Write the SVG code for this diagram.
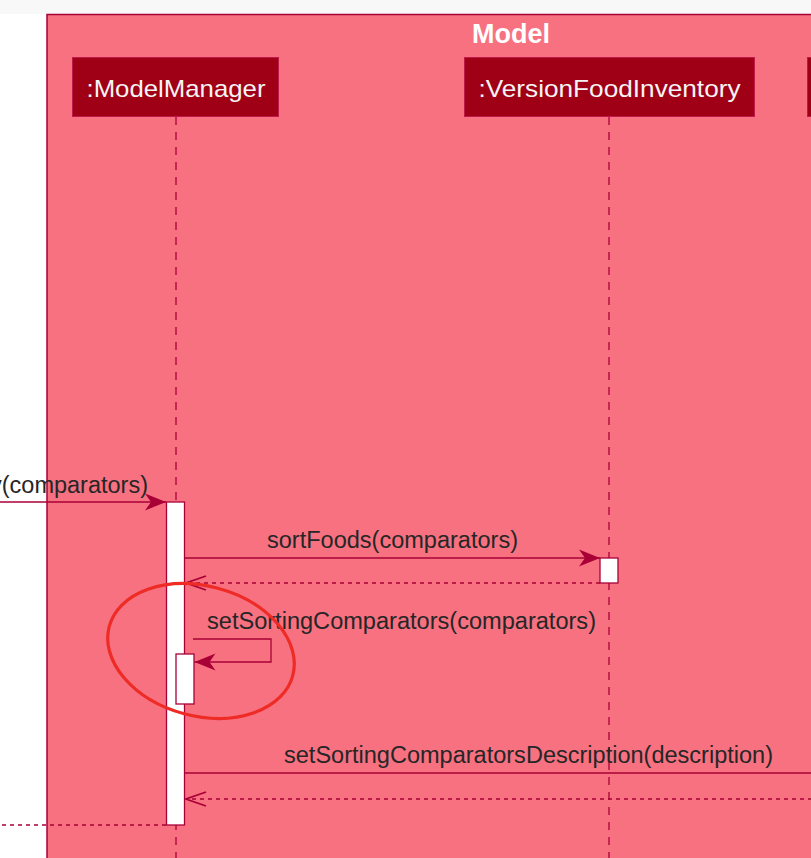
<svg xmlns="http://www.w3.org/2000/svg" width="811" height="858" viewBox="0 0 811 858">
<style>
.frame{fill:#F87181;stroke:#A80036;stroke-width:1.5}
.part rect{fill:#A00016;stroke:#C01848;stroke-width:1}
.part text{fill:#F4F4F4;font-family:"Liberation Sans",Arial,sans-serif;font-size:24px;text-anchor:middle}
.life{stroke:#A80036;stroke-width:1.3;stroke-dasharray:8,7;fill:none}
.act{fill:#FFFFFF;stroke:#A80036;stroke-width:1.3}
.msg{stroke:#A80036;stroke-width:1.3;fill:none}
.ret{stroke:#A80036;stroke-width:1.3;fill:none;stroke-dasharray:4,4}
.lbl{fill:#262626;font-family:"Liberation Sans",Arial,sans-serif;font-size:23.5px}
.title{fill:#FFFFFF;font-family:"Liberation Sans",Arial,sans-serif;font-size:27px;font-weight:bold;text-anchor:middle}
</style>
<defs>
<marker id="fill" viewBox="-23 -10 25 20" refX="0" refY="0" markerWidth="25" markerHeight="20" markerUnits="userSpaceOnUse" orient="auto">
<path d="M0,0 L-21,-8.5 L-15,0 L-21,8.5 Z" fill="#A80036"/>
</marker>
<marker id="open" viewBox="-23 -10 25 20" refX="0" refY="0" markerWidth="25" markerHeight="20" markerUnits="userSpaceOnUse" orient="auto">
<path d="M-20,-7 L0,0 L-20,7" fill="none" stroke="#A80036" stroke-width="1.8"/>
</marker>
</defs>
<rect x="0" y="0" width="811" height="858" fill="#FFFFFF"/>
<rect x="0" y="0" width="811" height="14" fill="#F8F8F8"/>
<g id="frame-model">
<rect class="frame" x="47" y="14.5" width="800" height="880"/>
<text class="title" x="511" y="43">Model</text>
</g>
<g id="lifelines">
<line class="life" x1="176" y1="117" x2="176" y2="858"/>
<line class="life" x1="609" y1="117" x2="609" y2="858"/>
</g>
<g id="ModelManager" class="part">
<rect x="72.5" y="57.5" width="206" height="59"/>
<text x="176" y="97" textLength="179" lengthAdjust="spacingAndGlyphs">:ModelManager</text>
</g>
<g id="VersionFoodInventory" class="part">
<rect x="464.5" y="57.5" width="290" height="59"/>
<text x="609.5" y="97" textLength="262" lengthAdjust="spacingAndGlyphs">:VersionFoodInventory</text>
</g>
<g id="third-participant" class="part">
<rect x="807.5" y="57.5" width="60" height="59"/>
</g>
<g id="activations">
<rect class="act" x="166.5" y="502" width="18" height="323"/>
<rect class="act" x="600" y="558" width="18" height="25"/>
<rect class="act" x="176" y="654" width="18" height="50"/>
</g>
<g id="connectors">
<line class="msg" x1="-5" y1="502" x2="166" y2="502" marker-end="url(#fill)"/>
<line class="msg" x1="185" y1="558" x2="600" y2="558" marker-end="url(#fill)"/>
<line class="ret" x1="600" y1="583" x2="186" y2="583" marker-end="url(#open)"/>
<path class="msg" d="M193,639 H271 V662 H194.5" marker-end="url(#fill)"/>
<line class="msg" x1="185" y1="773" x2="820" y2="773"/>
<line class="ret" x1="820" y1="799" x2="186" y2="799" marker-end="url(#open)"/>
<line class="ret" x1="166" y1="825" x2="-5" y2="825"/>
</g>
<g id="labels">
<text class="lbl" x="148" y="493" text-anchor="end">y(comparators)</text>
<text class="lbl" x="267" y="548" textLength="251" lengthAdjust="spacingAndGlyphs">sortFoods(comparators)</text>
<text class="lbl" x="207" y="629" textLength="389" lengthAdjust="spacingAndGlyphs">setSortingComparators(comparators)</text>
<text class="lbl" x="284" y="763" textLength="489" lengthAdjust="spacingAndGlyphs">setSortingComparatorsDescription(description)</text>
</g>
<ellipse id="highlight" cx="201" cy="651" rx="95" ry="65" transform="rotate(15 201 651)" fill="none" stroke="#EE2B25" stroke-width="3.2"/>
</svg>
